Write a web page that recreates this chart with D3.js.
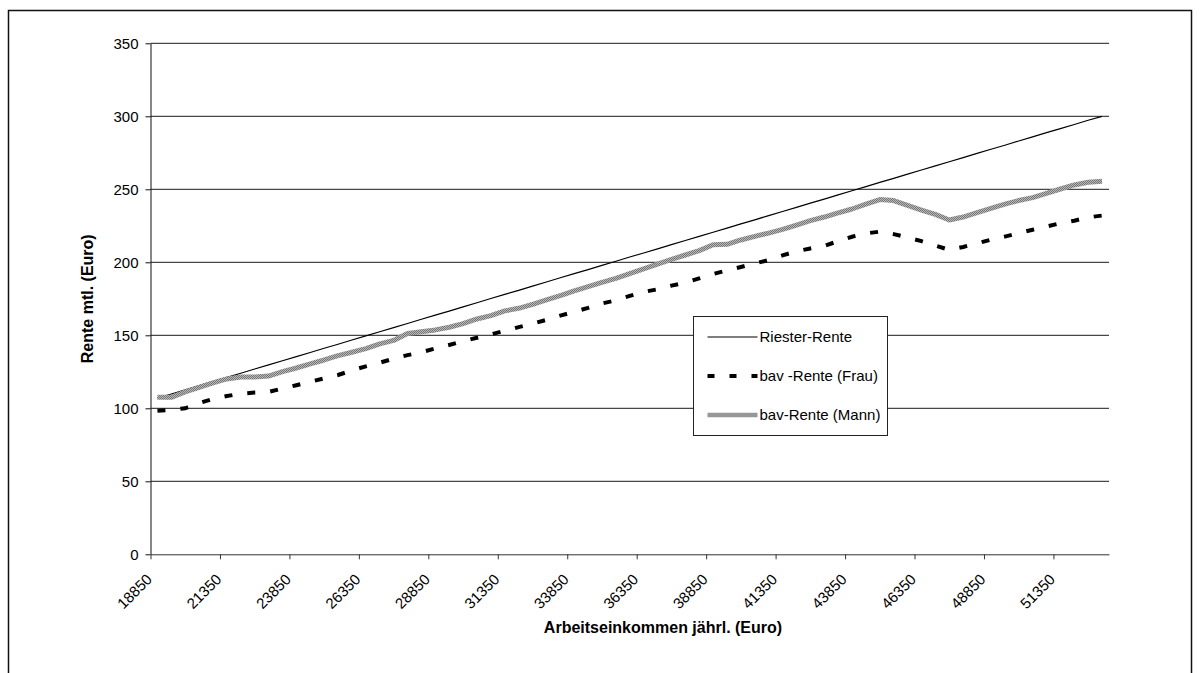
<!DOCTYPE html>
<html>
<head>
<meta charset="utf-8">
<script src="https://cdn.jsdelivr.net/npm/d3@7"></script>
<style>
  body { margin: 0; background: #fff; }
  svg { display: block; }
  text { font-family: "Liberation Sans", Arial, sans-serif; fill: #000; }
</style>
</head>
<body>
<svg id="chart" width="1201" height="673"></svg>
<script>
// Annual gross income (Euro), one category every 500 Euro
const categories = [
  18850, 19350, 19850, 20350, 20850, 21350, 21850, 22350, 22850, 23350,
  23850, 24350, 24850, 25350, 25850, 26350, 26850, 27350, 27850, 28350,
  28850, 29350, 29850, 30350, 30850, 31350, 31850, 32350, 32850, 33350,
  33850, 34350, 34850, 35350, 35850, 36350, 36850, 37350, 37850, 38350,
  38850, 39350, 39850, 40350, 40850, 41350, 41850, 42350, 42850, 43350,
  43850, 44350, 44850, 45350, 45850, 46350, 46850, 47350, 47850, 48350,
  48850, 49350, 49850, 50350, 50850, 51350, 51850, 52350, 52850
];

// Labels shown under every fifth category
const tickLabels = ["18850", "21350", "23850", "26350", "28850", "31350", "33850",
  "36350", "38850", "41350", "43850", "46350", "48850", "51350"];

const yTicks = [0, 50, 100, 150, 200, 250, 300, 350];

// Monthly pension (Euro)
const riester = [
  107.0, 109.8, 112.7, 115.5, 118.4, 121.2, 124.0, 126.9, 129.7, 132.6,
  135.4, 138.2, 141.1, 143.9, 146.8, 149.6, 152.4, 155.3, 158.1, 161.0,
  163.8, 166.6, 169.5, 172.3, 175.2, 178.0, 180.8, 183.7, 186.5, 189.4,
  192.2, 195.0, 197.9, 200.7, 203.6, 206.4, 209.2, 212.1, 214.9, 217.8,
  220.6, 223.4, 226.3, 229.1, 232.0, 234.8, 237.6, 240.5, 243.3, 246.2,
  249.0, 251.8, 254.7, 257.5, 260.4, 263.2, 266.0, 268.9, 271.7, 274.6,
  277.4, 280.2, 283.1, 285.9, 288.8, 291.6, 294.4, 297.3, 300.0
];

const bavFrau = [
  98.4, 99.0, 100.0, 103.5, 106.5, 108.4, 110.0, 110.8, 111.2, 113.5,
  115.8, 118.2, 120.5, 122.8, 126.0, 128.7, 131.2, 134.0, 136.4, 138.4,
  141.0, 143.4, 146.0, 148.3, 150.6, 153.1, 155.6, 158.0, 160.6, 163.5,
  166.1, 168.8, 171.8, 173.9, 177.0, 179.7, 181.5, 184.0, 186.0, 189.0,
  192.0, 194.5, 196.8, 199.2, 201.5, 204.8, 207.5, 209.5, 211.2, 214.5,
  217.5, 219.8, 221.0, 219.3, 217.0, 214.5, 211.5, 208.5, 210.5, 213.0,
  215.5, 217.6, 220.0, 222.3, 224.5, 226.8, 228.5, 230.8, 232.0
];

const bavMann = [
  107.5, 107.5, 111.2, 114.4, 117.4, 120.1, 121.5, 121.5, 122.1, 125.1,
  127.6, 130.4, 133.1, 136.1, 138.4, 140.9, 144.1, 146.5, 151.2, 152.5,
  153.7, 155.5, 158.0, 161.2, 163.5, 166.7, 168.5, 171.2, 174.2, 177.2,
  180.4, 183.3, 186.3, 189.0, 192.2, 195.5, 198.7, 202.0, 205.0, 208.0,
  212.0, 212.3, 215.3, 217.8, 220.0, 222.5, 225.5, 228.5, 231.0, 233.8,
  236.5, 239.8, 243.0, 242.3, 239.0, 235.8, 232.8, 229.0, 231.0, 234.1,
  237.0, 239.8, 242.3, 244.3, 247.2, 250.2, 253.0, 254.8, 255.5
];

const seriesNames = ["Riester-Rente", "bav -Rente (Frau)", "bav-Rente (Mann)"];

const svg = d3.select("#chart");
const font = '"Liberation Sans", Arial, sans-serif';

// Textured grey stroke for the male bav line
const defs = svg.append("defs");
const pat = defs.append("pattern")
  .attr("id", "mannTexture")
  .attr("patternUnits", "userSpaceOnUse")
  .attr("width", 2).attr("height", 2);
pat.append("rect").attr("width", 2).attr("height", 2).attr("fill", "#b8b8b8");
pat.append("rect").attr("width", 1).attr("height", 1).attr("fill", "#767676");
pat.append("rect").attr("x", 1).attr("y", 1).attr("width", 1).attr("height", 1).attr("fill", "#767676");

// Outer chart frame
svg.append("rect")
  .attr("x", 8.5).attr("y", 10.5)
  .attr("width", 1183).attr("height", 700)
  .attr("fill", "none").attr("stroke", "#111").attr("stroke-width", 1.5);

const plot = { left: 150.5, right: 1109, top: 43.3, bottom: 554.3 };

const x = d3.scaleLinear().domain([0, categories.length]).range([plot.left, plot.right]);
const y = d3.scaleLinear().domain([0, 350]).range([plot.bottom, plot.top]);

// Horizontal gridlines
svg.append("g")
  .selectAll("line")
  .data(yTicks.filter(v => v > 0))
  .join("line")
  .attr("x1", plot.left).attr("x2", plot.right)
  .attr("y1", d => y(d)).attr("y2", d => y(d))
  .attr("stroke", "#1a1a1a").attr("stroke-width", 1);

// Y axis
const yAxis = svg.append("g")
  .attr("transform", `translate(${plot.left},0)`)
  .call(d3.axisLeft(y).tickValues(yTicks).tickSize(5).tickPadding(7).tickSizeOuter(0));
yAxis.select(".domain").attr("stroke", "#111");
yAxis.selectAll(".tick line").attr("stroke", "#111");
yAxis.selectAll(".tick text")
  .attr("font-family", font).attr("font-size", 15).attr("fill", "#000");

// X axis: ticks at every fifth category boundary
const tickIdx = tickLabels.map(t => categories.indexOf(+t));
const xAxis = svg.append("g")
  .attr("transform", `translate(0,${plot.bottom})`)
  .call(d3.axisBottom(x).tickValues(tickIdx).tickSize(5).tickSizeOuter(0)
    .tickFormat((d, i) => tickLabels[i]));
xAxis.select(".domain").attr("stroke", "#333");
xAxis.selectAll(".tick line").attr("stroke", "#333");
xAxis.selectAll(".tick text")
  .attr("font-family", font).attr("font-size", 15).attr("fill", "#000")
  .attr("text-anchor", "end")
  .attr("x", 0).attr("y", 0).attr("dy", 0)
  .attr("transform", "translate(2,26) rotate(-45)");

// Series lines
const line = d3.line().x((d, i) => x(i + 0.5)).y(d => y(d));

svg.append("path").datum(riester)
  .attr("d", line).attr("fill", "none")
  .attr("stroke", "#000").attr("stroke-width", 1.2);

svg.append("path").datum(bavFrau)
  .attr("d", line).attr("fill", "none")
  .attr("stroke", "#000").attr("stroke-width", 4)
  .attr("stroke-dasharray", "8 15");

svg.append("path").datum(bavMann)
  .attr("d", line).attr("fill", "none")
  .attr("stroke", "url(#mannTexture)").attr("stroke-width", 5)
  .attr("stroke-linejoin", "round");

// Axis titles
svg.append("text")
  .attr("x", 663).attr("y", 633)
  .attr("text-anchor", "middle")
  .attr("font-size", 16).attr("font-weight", "bold")
  .text("Arbeitseinkommen jährl. (Euro)");

svg.append("text")
  .attr("transform", `translate(93,${(plot.top + plot.bottom) / 2}) rotate(-90)`)
  .attr("text-anchor", "middle")
  .attr("font-size", 16).attr("font-weight", "bold")
  .text("Rente mtl. (Euro)");

// Legend
const legend = svg.append("g").attr("transform", "translate(693.5,316.5)");
legend.append("rect")
  .attr("width", 194).attr("height", 119)
  .attr("fill", "#fff").attr("stroke", "#222").attr("stroke-width", 1);

const legendStyles = [
  { stroke: "#000", width: 1.2, dash: null },
  { stroke: "#000", width: 4, dash: "7 15" },
  { stroke: "url(#mannTexture)", width: 4.5, dash: null }
];
const rowY = [20.5, 59.5, 98.5];

seriesNames.forEach((name, i) => {
  const s = legendStyles[i];
  legend.append("line")
    .attr("x1", 14).attr("x2", 64)
    .attr("y1", rowY[i]).attr("y2", rowY[i])
    .attr("stroke", s.stroke).attr("stroke-width", s.width)
    .attr("stroke-dasharray", s.dash);
  legend.append("text")
    .attr("x", 66).attr("y", rowY[i]).attr("dy", "0.35em")
    .attr("font-size", 15)
    .text(name);
});
</script>
</body>
</html>
